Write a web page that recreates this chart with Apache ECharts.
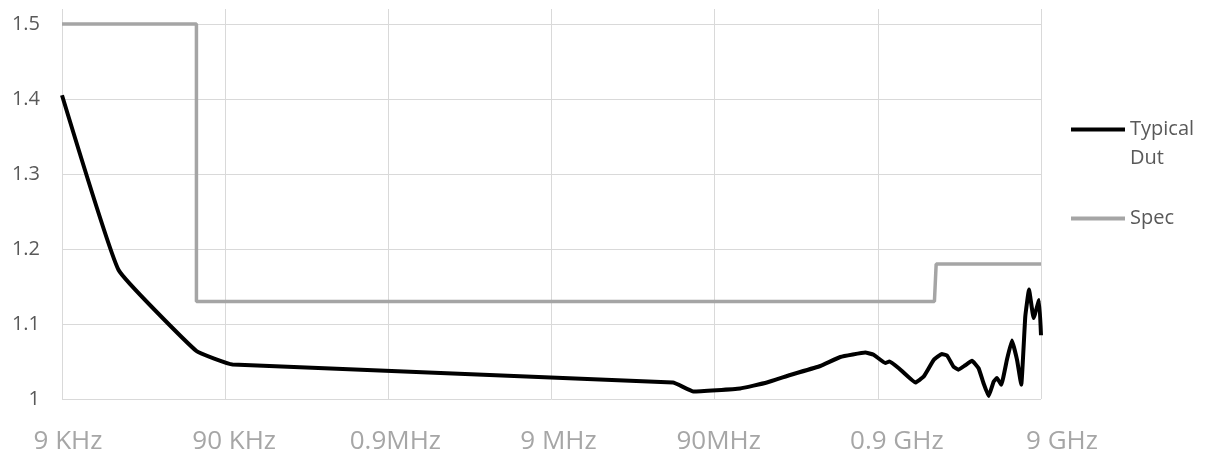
<!DOCTYPE html>
<html>
<head>
<meta charset="utf-8">
<script src="https://cdn.jsdelivr.net/npm/echarts@6/dist/echarts.min.js"></script>
<style>
  html, body { margin: 0; padding: 0; background: #ffffff; }
  #chart { width: 1206px; height: 461px; }
</style>
</head>
<body>
<div id="chart"></div>
<script>
// Frequency sweep, 9 KHz .. 9 GHz (Hz)
const dutFreqHz = [9e3, 20e3, 60e3, 100e3, 50e6, 66.7e6, 129e6, 188e6, 261e6, 400e6,
  530e6, 754e6, 848e6, 1.0e9, 1.06e9, 1.21e9, 1.53e9, 1.72e9, 1.98e9, 2.22e9,
  2.39e9, 2.62e9, 2.81e9, 3.09e9, 3.40e9, 3.73e9, 4.0e9, 4.3e9, 4.61e9, 4.83e9,
  5.14e9, 5.56e9, 5.97e9, 6.42e9, 6.81e9, 7.21e9, 7.6e9, 8.11e9, 8.76e9, 9e9];
// Measured VSWR of the typical device
const dutVswr = [1.405, 1.172, 1.064, 1.046, 1.022, 1.010, 1.014, 1.022, 1.032, 1.044,
  1.056, 1.062, 1.059, 1.048, 1.050, 1.041, 1.022, 1.030, 1.052, 1.060,
  1.058, 1.043, 1.039, 1.045, 1.051, 1.041, 1.021, 1.004, 1.023, 1.028,
  1.019, 1.052, 1.078, 1.052, 1.019, 1.110, 1.146, 1.108, 1.132, 1.085];

// Specification limit (step mask)
const specFreqHz = [9e3, 60e3, 60e3, 2.0e9, 2.05e9, 9e9];
const specVswr = [1.5, 1.5, 1.13, 1.13, 1.18, 1.18];

// Axis labels
const xTickLabels = ['9 KHz', '90 KHz', '0.9MHz', '9 MHz', '90MHz', '0.9 GHz', '9 GHz'];
const yTickValues = [1, 1.1, 1.2, 1.3, 1.4, 1.5];

const seriesNames = ['Typical Dut', 'Spec'];

// small horizontal nudges of the frequency labels (px)
const labelNudge = [6, 9, 7, 7, 4, 19, 21];

const BASE_HZ = 9e3;
// x position in decades above 9 KHz
const toDecade = f => Math.log10(f / BASE_HZ);
const pairs = (xs, ys) => xs.map((f, i) => [toDecade(f), ys[i]]);

const rich = {};
labelNudge.forEach((n, i) => {
  rich['l' + i] = {
    fontFamily: 'Open Sans', fontSize: 26, color: '#a6a6a6',
    padding: [0, 0, 0, n * 2]
  };
});

const legendText = { fontFamily: 'Open Sans', fontSize: 20, color: '#595959', lineHeight: 29 };

const chart = echarts.init(document.getElementById('chart'), null, { renderer: 'canvas' });
chart.setOption({
  backgroundColor: '#ffffff',
  animation: false,
  grid: { left: 62, right: 165, top: 9, bottom: 62, containLabel: false },
  xAxis: {
    type: 'value',
    min: 0, max: 6, interval: 1,
    axisLine: { show: false },
    axisTick: { show: false },
    splitLine: { show: true, lineStyle: { color: '#d9d9d9', width: 1 } },
    axisLabel: {
      margin: 30,
      formatter: v => {
        const i = Math.round(v);
        return '{l' + i + '|' + xTickLabels[i] + '}';
      },
      rich: rich
    }
  },
  yAxis: {
    type: 'value',
    min: 1, max: 1.52,
    axisLine: { show: false },
    axisTick: { show: false, customValues: yTickValues },
    splitLine: { show: true, lineStyle: { color: '#d9d9d9', width: 1 } },
    axisLabel: {
      customValues: yTickValues,
      margin: 22,
      fontFamily: 'Open Sans', fontSize: 20, color: '#595959'
    }
  },
  legend: [
    {
      data: [seriesNames[0]],
      left: 1071, top: 86, padding: 0,
      icon: 'rect', itemWidth: 54, itemHeight: 4,
      // wrapped name; the empty first line keeps the marker level with "Typical"
      formatter: () => '\nTypical\nDut',
      textStyle: legendText
    },
    {
      data: [seriesNames[1]],
      left: 1071, top: 204, padding: 0,
      icon: 'rect', itemWidth: 54, itemHeight: 4,
      textStyle: legendText
    }
  ],
  series: [
    {
      name: seriesNames[1],
      type: 'line',
      data: pairs(specFreqHz, specVswr),
      symbol: 'none',
      lineStyle: { color: '#a5a5a5', width: 3.5 },
      itemStyle: { color: '#a5a5a5' },
      z: 2
    },
    {
      name: seriesNames[0],
      type: 'line',
      data: pairs(dutFreqHz, dutVswr),
      symbol: 'none',
      smooth: 0.1,
      lineStyle: { color: '#000000', width: 4 },
      itemStyle: { color: '#000000' },
      z: 3
    }
  ]
});
</script>
</body>
</html>
